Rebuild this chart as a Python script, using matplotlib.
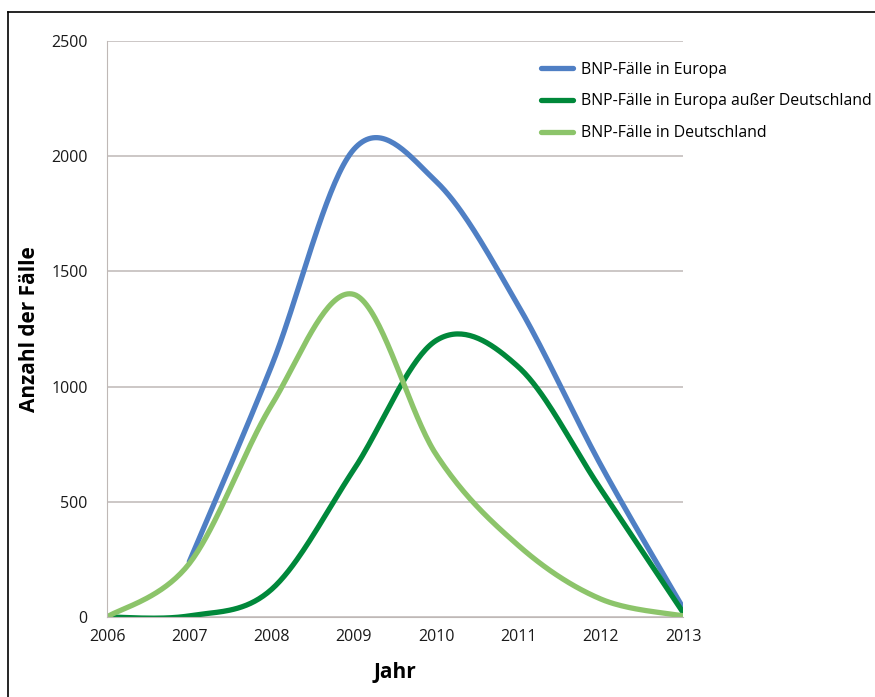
import numpy as np
import matplotlib
matplotlib.use("Agg")
import matplotlib.pyplot as plt
from matplotlib.lines import Line2D

plt.rcParams['font.family'] = ['Open Sans', 'DejaVu Sans']

# yearly values
years_eu = [2007, 2008, 2009, 2010, 2011, 2012, 2013]
eu = [240, 1090, 2030, 1890, 1350, 660, 40]

years = [2006, 2007, 2008, 2009, 2010, 2011, 2012, 2013]
eu_ohne_de = [0, 5, 120, 640, 1200, 1085, 555, 20]
de = [0, 232, 920, 1400, 705, 310, 78, 5]

labels = ["BNP-Fälle in Europa",
          "BNP-Fälle in Europa außer Deutschland",
          "BNP-Fälle in Deutschland"]
colors = ["#4f7fc4", "#00883a", "#8cc46a"]


def smooth(x, y, n=40):
    # Excel-style smoothed line (Catmull-Rom through the data points)
    x = np.asarray(x, float)
    y = np.asarray(y, float)
    px = np.concatenate([[x[0]], x, [x[-1]]])
    py = np.concatenate([[y[0]], y, [y[-1]]])
    xs, ys = [], []
    t = np.linspace(0, 1, n)
    for i in range(1, len(px) - 2):
        for p, out in ((px, xs), (py, ys)):
            p0, p1, p2, p3 = p[i - 1], p[i], p[i + 1], p[i + 2]
            c1 = p1 + (p2 - p0) / 6
            c2 = p2 - (p3 - p1) / 6
            out.extend((1 - t) ** 3 * p1 + 3 * (1 - t) ** 2 * t * c1
                       + 3 * (1 - t) * t ** 2 * c2 + t ** 3 * p2)
    return xs, ys


fig = plt.figure(figsize=(8.75, 6.97), dpi=100)
ax = fig.add_axes([0.1223, 0.1148, 0.6583, 0.8264])

for (x, y), lab, col in zip([(years_eu, eu), (years, eu_ohne_de), (years, de)], labels, colors):
    sx, sy = smooth(x, y)
    ax.plot(sx, sy, color=col, lw=3.8, label=lab, solid_capstyle='round')

ax.set_xlim(2006, 2013)
ax.set_ylim(0, 2500)
ax.set_xticks(years)
ax.set_yticks([0, 500, 1000, 1500, 2000, 2500])
ax.grid(axis='y', color='#bfb8b6', lw=1.1)
ax.set_axisbelow(True)
for s in ['top', 'right']:
    ax.spines[s].set_visible(False)
ax.spines['left'].set_color('#bfb8b6')
ax.spines['bottom'].set_color('#bfb8b6')
ax.tick_params(length=0, labelsize=11.5, colors='#1a1a1a', pad=9)
ax.tick_params(axis='y', pad=14)

ax.set_xlabel("Jahr", fontsize=15, fontweight='bold', labelpad=12)
ax.set_ylabel("Anzahl der Fälle", fontsize=15, fontweight='bold', labelpad=8)

ax.legend(loc='upper left', bbox_to_anchor=(0.602, 0.932), bbox_transform=fig.transFigure,
          frameon=False, fontsize=11.4, handlelength=2.0, labelspacing=1.0, handletextpad=0.55)

# frame around the figure (top and left edges)
fig.add_artist(Line2D([8 / 875, 8 / 875], [0, 1 - 12 / 697], transform=fig.transFigure, color='black', lw=1.2))
fig.add_artist(Line2D([8 / 875, 1], [1 - 12 / 697, 1 - 12 / 697], transform=fig.transFigure, color='black', lw=1.2))

fig.savefig("out.png", dpi=100)
